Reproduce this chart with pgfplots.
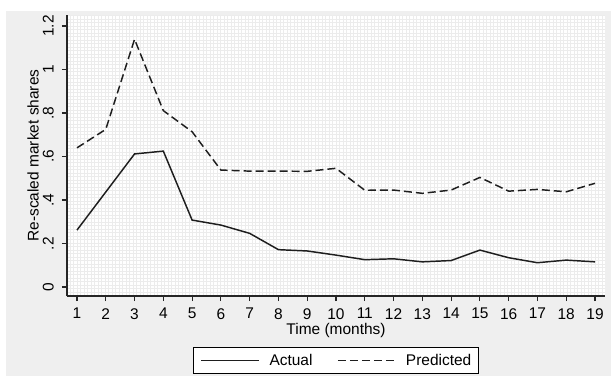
\documentclass[border=0pt]{standalone}
\usepackage{fontspec}
\setmainfont{Liberation Sans}
\usepackage{pgfplots}
\pgfplotsset{compat=1.18}
\definecolor{panel}{RGB}{239,239,239}
\definecolor{gridc}{RGB}{236,236,236}
\definecolor{linec}{RGB}{30,30,30}
\begin{document}
\begin{tikzpicture}[font=\fontsize{11.6}{13}\selectfont]
\begin{scope}[x=0.75pt,y=0.75pt,shift={(-50.25pt,-60pt)}]
\fill[white] (0,0) rectangle (611,376);
\fill[panel] (6,0) rectangle (611,365);
\fill[white] (67,80) rectangle (605,361);
\clip (67,80) rectangle (605,361);
\draw[gridc,line width=0.35pt] (67,80) grid[step=3.5] (605,361);
\end{scope}
\begin{axis}[
  at={(0pt,0pt)}, anchor=south west,
  scale only axis, width=403.5pt, height=210.75pt,
  xmin=0.653, xmax=19.347, ymin=-0.041, ymax=1.2506,
  axis x line*=bottom, axis y line*=left,
  axis line style={line width=0.9pt, black!85, -},
  tick align=outside, major tick length=3.75pt,
  tick style={line width=0.9pt, black!85},
  xtick={1,...,19},
  ytick={0,0.2,0.4,0.6,0.8,1,1.2},
  yticklabels={0,.2,.4,.6,.8,1,1.2},
  /pgf/number format/assume math mode=true,
  yticklabel style={rotate=90, anchor=south, inner sep=0pt},
  yticklabel shift=6pt,
  xticklabel style={anchor=north, inner sep=0pt},
  xticklabel shift=5.25pt,
  every axis x label/.style={at={(axis description cs:0.5,-0.124)}, anchor=center},
  every axis y label/.style={at={(axis description cs:-0.0632,0.5)}, anchor=center, rotate=90},
  xlabel={Time (months)},
  ylabel={Re-scaled market shares},
  legend columns=2,
  legend style={at={(axis description cs:0.5,-0.2295)}, anchor=center, draw=black, line width=0.8pt, fill=white,
    inner xsep=5.5pt, inner ysep=2pt,
    nodes={inner xsep=0pt, inner ysep=3pt},
    /tikz/every odd column/.append style={column sep=7pt},
    /tikz/every even column/.append style={column sep=18.5pt}},
  legend image code/.code={\draw[#1] (0pt,0pt) -- (43.5pt,0pt);},
  clip=false,
]
\addplot[linec, line width=1.1pt] coordinates {
(1,0.262) (2,0.437) (3,0.612) (4,0.625) (5,0.308) (6,0.285) (7,0.247) (8,0.172) (9,0.166) (10,0.147)
(11,0.126) (12,0.130) (13,0.116) (14,0.122) (15,0.170) (16,0.135) (17,0.112) (18,0.124) (19,0.116)};
\addlegendentry{Actual}
\addplot[linec, line width=1.1pt, dash pattern=on 6pt off 3pt] coordinates {
(1,0.640) (2,0.725) (3,1.139) (4,0.811) (5,0.714) (6,0.538) (7,0.533) (8,0.533) (9,0.532) (10,0.546)
(11,0.445) (12,0.446) (13,0.431) (14,0.446) (15,0.504) (16,0.441) (17,0.449) (18,0.438) (19,0.477)};
\addlegendentry{Predicted}
\end{axis}
\end{tikzpicture}
\end{document}
